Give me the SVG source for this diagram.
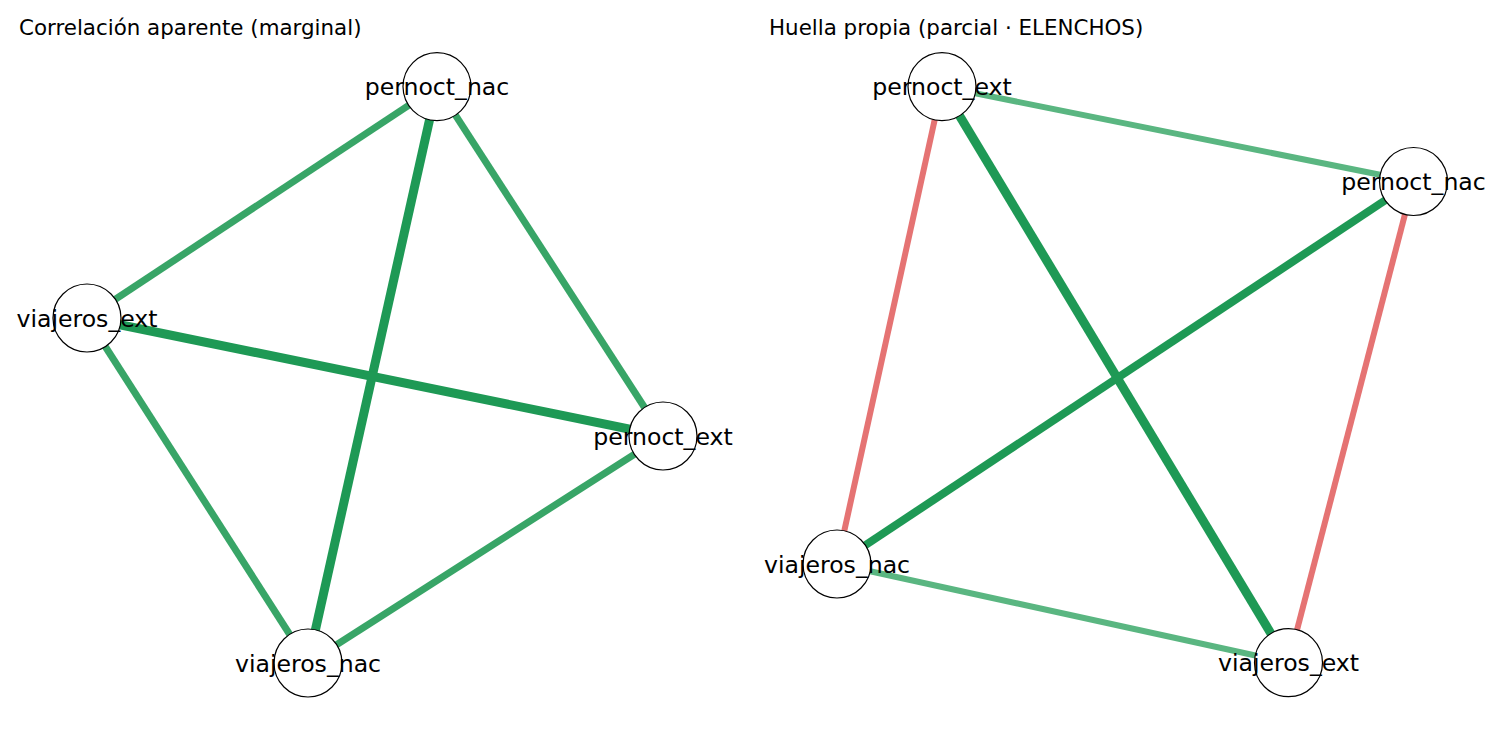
<svg xmlns="http://www.w3.org/2000/svg" width="1500" height="750" viewBox="0 0 1500 750">
<style>
.title{font-family:"DejaVu Sans",sans-serif;font-size:21.4px;fill:#000}
.lbl{font-family:"DejaVu Sans",sans-serif;font-size:23.6px;fill:#000;text-anchor:middle}
.node circle{fill:#fff;stroke:#000;stroke-width:1.2}
.e{fill:none;stroke-linecap:butt}
.g1{stroke:#1e9955}
.g2{stroke:#38a567}
.g3{stroke:#5ab681}
.r{stroke:#e57373}
</style>
<rect width="1500" height="750" fill="#fff"/>
<text class="title" x="19" y="35">Correlación aparente (marginal)</text>
<text class="title" x="769" y="35">Huella propia (parcial · ELENCHOS)</text>
<g id="connectors">
<line class="e g2" x1="437" y1="86.6" x2="87" y2="318" stroke-width="7"/>
<line class="e g2" x1="437" y1="86.6" x2="663" y2="436" stroke-width="7"/>
<line class="e g1" x1="437" y1="86.6" x2="308" y2="663" stroke-width="9"/>
<line class="e g1" x1="87" y1="318" x2="663" y2="436" stroke-width="9"/>
<line class="e g2" x1="87" y1="318" x2="308" y2="663" stroke-width="7"/>
<line class="e g2" x1="663" y1="436" x2="308" y2="663" stroke-width="7"/>
<line class="e g3" x1="942" y1="86.6" x2="1413.5" y2="181.5" stroke-width="6"/>
<line class="e r" x1="942" y1="86.6" x2="837" y2="564" stroke-width="6"/>
<line class="e g1" x1="942" y1="86.6" x2="1288.5" y2="662.7" stroke-width="9"/>
<line class="e g1" x1="1413.5" y1="181.5" x2="837" y2="564" stroke-width="8"/>
<line class="e r" x1="1413.5" y1="181.5" x2="1288.5" y2="662.7" stroke-width="6"/>
<line class="e g3" x1="837" y1="564" x2="1288.5" y2="662.7" stroke-width="6"/>
</g>
<g id="L_pernoct_nac" class="node"><circle cx="437" cy="86.6" r="34"/><text class="lbl" x="437" y="95">pernoct_nac</text></g>
<g id="L_viajeros_ext" class="node"><circle cx="87" cy="318" r="34"/><text class="lbl" x="87" y="326.5">viajeros_ext</text></g>
<g id="L_pernoct_ext" class="node"><circle cx="663" cy="436" r="34"/><text class="lbl" x="663" y="444.5">pernoct_ext</text></g>
<g id="L_viajeros_nac" class="node"><circle cx="308" cy="663" r="34"/><text class="lbl" x="308" y="671.5">viajeros_nac</text></g>
<g id="R_pernoct_ext" class="node"><circle cx="942" cy="86.6" r="34"/><text class="lbl" x="942" y="95">pernoct_ext</text></g>
<g id="R_pernoct_nac" class="node"><circle cx="1413.5" cy="181.5" r="34"/><text class="lbl" x="1413.5" y="190">pernoct_nac</text></g>
<g id="R_viajeros_nac" class="node"><circle cx="837" cy="564" r="34"/><text class="lbl" x="837" y="572.5">viajeros_nac</text></g>
<g id="R_viajeros_ext" class="node"><circle cx="1288.5" cy="662.7" r="34"/><text class="lbl" x="1288.5" y="671">viajeros_ext</text></g>
</svg>
